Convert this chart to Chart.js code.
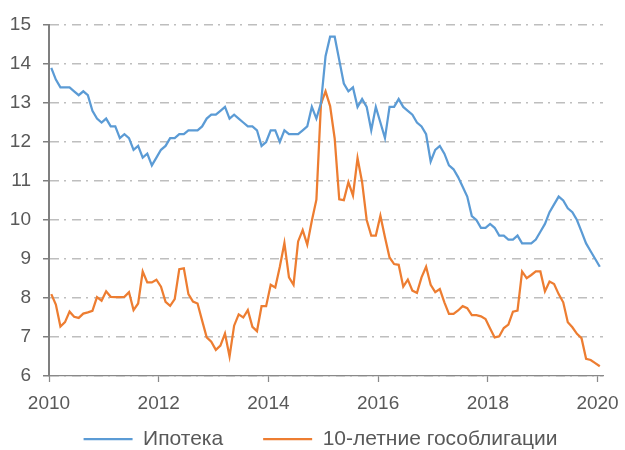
<!DOCTYPE html>
<html>
<head>
<meta charset="utf-8">
<script src="https://cdn.jsdelivr.net/npm/chart.js@4"></script>
<style>
  html, body { margin: 0; padding: 0; background: #fff; }
</style>
</head>
<body>
<canvas id="rateChart" width="625" height="450"></canvas>
<script>
// monthly data, Jan 2010 .. Jan 2020
const startYear = 2010;
const seriesNames = ["Ипотека", "10-летние гособлигации"];
const yearTicks = [2010, 2012, 2014, 2016, 2018, 2020];

const mortgage = [
    13.9, 13.6, 13.4, 13.4, 13.4, 13.3, 13.2, 13.3, 13.2, 12.8, 12.6, 12.5,
    12.6, 12.4, 12.4, 12.1, 12.2, 12.1, 11.8, 11.9, 11.6, 11.7, 11.4, 11.6,
    11.8, 11.9, 12.1, 12.1, 12.2, 12.2, 12.3, 12.3, 12.3, 12.4, 12.6, 12.7,
    12.7, 12.8, 12.9, 12.6, 12.7, 12.6, 12.5, 12.4, 12.4, 12.3, 11.9, 12.0,
    12.3, 12.3, 12.0, 12.3, 12.2, 12.2, 12.2, 12.3, 12.4, 12.9, 12.6, 13.0,
    14.2, 14.7, 14.7, 14.1, 13.5, 13.3, 13.4, 12.9, 13.1, 12.9, 12.3, 12.9,
    12.5, 12.1, 12.9, 12.9, 13.1, 12.9, 12.8, 12.7, 12.5, 12.4, 12.2, 11.5,
    11.8, 11.9, 11.7, 11.4, 11.3, 11.1, 10.85, 10.6, 10.1, 10.0, 9.8, 9.8,
    9.9, 9.8, 9.6, 9.6, 9.5, 9.5, 9.6, 9.4, 9.4, 9.4, 9.5, 9.7,
    9.9, 10.2, 10.4, 10.6, 10.5, 10.3, 10.2, 10.0, 9.7, 9.4, 9.2, 9.0,
    8.8
];

const bonds10y = [
    8.10, 7.83, 7.27, 7.38, 7.65, 7.52, 7.49, 7.60, 7.63, 7.67, 8.02, 7.93,
    8.17, 8.03, 8.02, 8.02, 8.03, 8.15, 7.69, 7.86, 8.68, 8.40, 8.40, 8.47,
    8.29, 7.90, 7.80, 7.97, 8.74, 8.76, 8.10, 7.91, 7.86, 7.42, 6.99, 6.88,
    6.67, 6.78, 7.09, 6.50, 7.29, 7.58, 7.50, 7.69, 7.26, 7.15, 7.79, 7.79,
    8.34, 8.27, 8.80, 9.41, 8.53, 8.34, 9.45, 9.74, 9.37, 9.98, 10.52, 12.98,
    13.30, 12.92, 12.09, 10.53, 10.51, 10.97, 10.63, 11.59, 10.97, 10.00, 9.60, 9.60,
    10.11, 9.56, 9.04, 8.87, 8.85, 8.29, 8.47, 8.19, 8.13, 8.53, 8.80, 8.34,
    8.15, 8.23, 7.89, 7.59, 7.59, 7.68, 7.79, 7.74, 7.56, 7.56, 7.53, 7.46,
    7.22, 6.99, 7.02, 7.23, 7.32, 7.65, 7.68, 8.68, 8.51, 8.59, 8.68, 8.68,
    8.17, 8.42, 8.36, 8.10, 7.89, 7.38, 7.25, 7.08, 6.97, 6.44, 6.41, 6.33,
    6.25
];

// each value sits in the middle of its month
function toPoints(values) {
    return values.map((v, i) => ({ x: startYear + (i + 0.5) / 12, y: v }));
}

const FONT = "'Liberation Sans', Arial, sans-serif";
const TEXT = "#595959";

Chart.defaults.font.family = FONT;
Chart.defaults.font.size = 19;
Chart.defaults.color = TEXT;

// legend padding is wide (item gap), so pull the legend box up and right a bit
const legendNudge = {
    id: "legendNudge",
    afterLayout(chart) {
        const lg = chart.legend;
        const dy = lg.top - 388.5;
        const dx = 19;
        lg.top -= dy;
        lg.left += dx;
        lg.right += dx;
    }
};

let ctx = document.getElementById("rateChart").getContext("2d");
var rateChart = new Chart(ctx, {
    type: "line",
    data: {
        datasets: [{
            label: seriesNames[0],
            data: toPoints(mortgage),
            borderColor: "#5B9BD5",
            backgroundColor: "#5B9BD5",
            borderWidth: 2.25,
            pointRadius: 0,
            tension: 0
        }, {
            label: seriesNames[1],
            data: toPoints(bonds10y),
            borderColor: "#ED7D31",
            backgroundColor: "#ED7D31",
            borderWidth: 2.25,
            pointRadius: 0,
            tension: 0
        }]
    },
    plugins: [legendNudge],
    options: {
        responsive: false,
        animation: false,
        layout: {
            padding: { top: 25, right: 22, bottom: 0, left: 0 }
        },
        plugins: {
            tooltip: { enabled: false },
            legend: {
                position: "bottom",
                maxHeight: 40,
                labels: {
                    usePointStyle: true,
                    pointStyle: "line",
                    pointStyleWidth: 49,
                    padding: 40,
                    color: TEXT,
                    font: { size: 21 }
                }
            }
        },
        scales: {
            x: {
                type: "linear",
                min: 2010,
                max: 2020.1,
                afterBuildTicks: (scale) => {
                    scale.ticks = yearTicks.map((v) => ({ value: v }));
                },
                afterFit: (scale) => {
                    scale.height = 34;
                    scale.paddingLeft = 0;
                    scale.paddingRight = 0;
                },
                grid: {
                    drawOnChartArea: false,
                    drawTicks: true,
                    tickLength: 6,
                    tickColor: "#898989",
                    tickWidth: 1.25
                },
                border: { color: "#898989", width: 1.25 },
                ticks: {
                    padding: 10,
                    maxRotation: 0,
                    autoSkip: false,
                    callback: (v) => String(v)
                }
            },
            y: {
                min: 6,
                max: 15,
                afterFit: (scale) => { scale.width = 49; },
                grid: {
                    color: "#BEBEBE",
                    lineWidth: 1.5,
                    drawTicks: true,
                    tickLength: 6,
                    tickColor: "#7F7F7F",
                    tickWidth: 1.5
                },
                border: { color: "#7F7F7F", width: 2, dash: [9, 5, 2, 6] },
                ticks: {
                    stepSize: 1,
                    padding: 12
                }
            }
        }
    }
});
</script>
</body>
</html>
